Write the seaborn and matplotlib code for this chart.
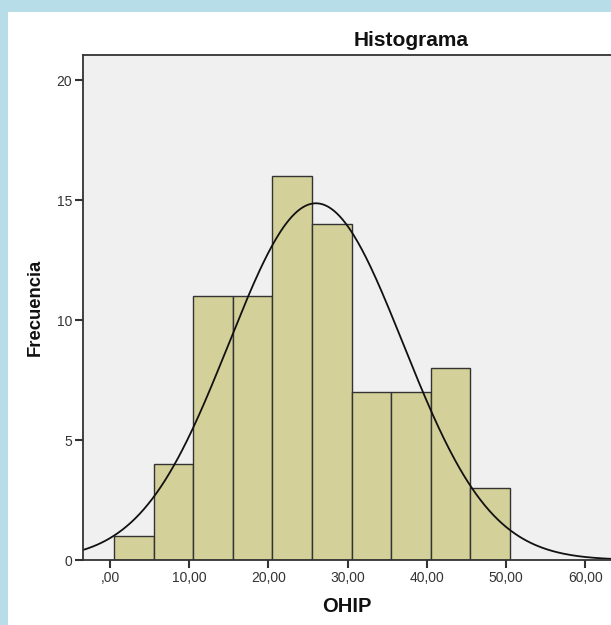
import numpy as np
import matplotlib
matplotlib.use("Agg")
import matplotlib.pyplot as plt
import seaborn as sns
from matplotlib.patches import Rectangle
from matplotlib.ticker import FuncFormatter

# Histogram data (OHIP scores, bins of width 5)
bin_edges = [0.5, 5.5, 10.5, 15.5, 20.5, 25.5, 30.5, 35.5, 40.5, 45.5, 50.5]
counts = [1, 4, 11, 11, 16, 14, 7, 7, 8, 3]
x_ticks = [0, 10, 20, 30, 40, 50, 60]
y_ticks = [0, 5, 10, 15, 20]

# Normal curve parameters (estimated from the fitted curve)
mean_ohip = 26.0
sd_ohip = 11.0
n_total = sum(counts)
bin_width = 5.0

sns.set_style("white")
plt.rcParams['font.family'] = ['Liberation Sans', 'DejaVu Sans']

fig = plt.figure(figsize=(6.11, 6.25), dpi=100)
fig.patch.set_facecolor("#b7dde8")
# white panel inside the light-blue frame
panel = Rectangle((8 / 611, 0), 1, 1 - 12 / 625, transform=fig.transFigure,
                  facecolor="white", edgecolor="none", zorder=-10)
fig.add_artist(panel)

ax = fig.add_axes([83 / 611, 65 / 625, 0.887, 505 / 625])
ax.set_zorder(1)
ax.set_facecolor("#f0f0f0")

centers = [(a + b) / 2 for a, b in zip(bin_edges[:-1], bin_edges[1:])]
sns.histplot(x=centers, weights=counts, bins=bin_edges, color="#d4d09a", alpha=1,
             edgecolor="#333333", linewidth=1.0, ax=ax)

xs = np.linspace(-5, 66, 400)
ys = n_total * bin_width / (sd_ohip * np.sqrt(2 * np.pi)) * np.exp(-(xs - mean_ohip) ** 2 / (2 * sd_ohip ** 2))
ax.plot(xs, ys, color="#111111", linewidth=1.3)


def comma_fmt(v, pos):
    s = ("%.2f" % v).replace(".", ",")
    return s[1:] if s.startswith("0") else s


ax.set_xlim(-3.4, 65)
ax.set_ylim(0, 21.05)
ax.set_xticks(x_ticks)
ax.set_yticks(y_ticks)
ax.xaxis.set_major_formatter(FuncFormatter(comma_fmt))
ax.tick_params(axis="both", direction="out", length=6, width=1.5, color="#333333",
               labelsize=10, labelcolor="#333333", pad=2, bottom=True, left=True)
ax.set_xlabel("")
ax.set_ylabel("")
for side in ["left", "bottom", "top", "right"]:
    ax.spines[side].set_color("#333333")
    ax.spines[side].set_linewidth(1.3)

fig.text(411 / 611, 1 - 40 / 625, "Histograma", ha="center", va="center",
         fontsize=15, fontweight="bold", color="#111111")
fig.text(347 / 611, 1 - 606 / 625, "OHIP", ha="center", va="center",
         fontsize=14.5, fontweight="bold", color="#111111")
fig.text(35 / 611, 1 - 307 / 625, "Frecuencia", ha="center", va="center", rotation=90,
         fontsize=13.3, fontweight="bold", color="#111111")

fig.savefig("out.png", dpi=100, facecolor=fig.get_facecolor())
